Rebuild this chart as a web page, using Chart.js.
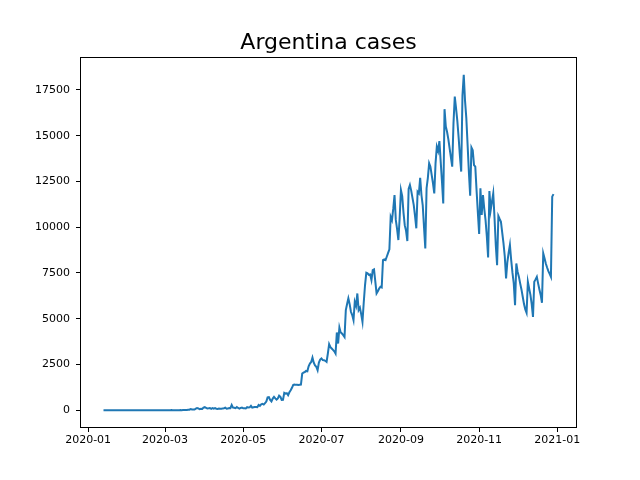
<!DOCTYPE html>
<html>
<head>
<meta charset="utf-8">
<script src="https://cdn.jsdelivr.net/npm/chart.js@4.4.1/dist/chart.umd.min.js"></script>
<style>
html,body{margin:0;padding:0;background:#fff;}
#wrap{width:640px;height:480px;}
</style>
</head>
<body>
<div id="wrap"><canvas id="c" width="640" height="480"></canvas></div>
<script>
// Daily new cases, one value per day starting at startDate
const startDate = '2020-01-13';
const cases = [
  0,0,0,0,0,0,0,0,0,0,
  0,0,0,0,0,0,0,0,0,0,
  0,0,0,0,0,0,0,0,0,0,
  0,0,0,0,0,0,0,0,0,0,
  0,0,0,0,0,0,0,0,0,0,
  1,0,1,6,1,3,5,2,4,3,
  7,3,11,11,14,18,31,30,67,41,
  36,35,86,115,101,55,75,70,146,167,
  132,98,103,120,74,114,87,115,83,69,
  95,77,77,100,110,144,81,88,119,112,
  291,145,135,111,172,122,86,124,143,103,
  111,101,165,145,158,240,139,163,178,181,
  165,285,240,316,345,308,390,470,704,718,
  560,480,638,735,648,581,643,795,736,560,
  566,950,904,929,820,983,1094,1226,1390,1400,
  1386,1393,1374,1393,1400,2000,2060,2086,2146,2130,
  2400,2550,2635,2880,2600,2450,2370,2190,2600,2770,
  2830,2744,2735,2700,2640,3100,3610,3450,3375,3300,
  3223,3099,4250,3645,4518,4250,4190,4100,4000,5470,
  5800,6110,5800,5380,5200,4920,5925,5700,6380,5470,
  5600,5250,4830,5900,6840,7510,7480,7400,7420,7110,
  7660,7700,7040,6380,6500,6650,6745,6710,8200,8240,
  8200,8400,8600,8790,10570,10390,11000,11760,10400,9900,
  9300,10500,12030,11700,10800,10100,9800,9245,12090,12310,
  12000,11600,11210,10600,9940,11940,11850,12700,11760,11200,
  10000,8845,12130,12700,13490,13300,12850,12400,11850,13500,
  14400,14170,14710,13600,12500,11300,16450,15500,15200,14800,
  14300,13800,13310,15700,17140,16500,15800,14900,13900,13040,
  17200,18330,16900,15960,14500,13000,11720,14350,14200,13400,
  13310,12000,10800,9630,12130,10670,11760,11000,10390,9500,
  8350,11980,10940,11400,11850,10500,9000,7930,10610,10450,
  10300,9700,9120,8400,7200,8100,8600,9030,8200,7500,
  6930,5740,8020,7570,7300,6930,6600,6200,5800,5500,
  5320,7020,6660,6300,5800,5100,7020,7150,7290,6930,
  6600,6300,5870,8570,8300,8020,7800,7600,7450,7290,
  11670,11810
];
const titleText = 'Argentina cases';
const xTickDates = ['2020-01-01','2020-03-01','2020-05-01','2020-07-01','2020-09-01','2020-11-01','2021-01-01'];
const xTickLabels = ['2020-01','2020-03','2020-05','2020-07','2020-09','2020-11','2021-01'];
const yTicks = [0,2500,5000,7500,10000,12500,15000,17500];

const DAY = 86400000;
const origin = Date.UTC(2020,0,1);
function dayOf(s){ const p=s.split('-').map(Number); return (Date.UTC(p[0],p[1]-1,p[2])-origin)/DAY; }
const d0 = dayOf(startDate);
const points = cases.map((v,i)=>({x:d0+i, y:v}));
const xTickVals = xTickDates.map(dayOf);

const xs = points.map(p=>p.x), ys = points.map(p=>p.y);
const xMin = Math.min(...xs), xMax = Math.max(...xs);
const yMin = Math.min(...ys), yMax = Math.max(...ys);
const xPad = 0.05*(xMax-xMin), yPad = 0.05*(yMax-yMin);

const FONT = "'DejaVu Sans', sans-serif";

const frame = {
  id:'frame',
  afterDatasetsDraw(chart){
    const {ctx, chartArea:a} = chart;
    ctx.save();
    ctx.strokeStyle='#000';
    ctx.lineWidth=1;
    ctx.strokeRect(Math.round(a.left)-0.5, Math.round(a.top)-0.5, Math.round(a.right-a.left)+1, Math.round(a.bottom-a.top)+1);
    // axes title centred over the plot area
    ctx.fillStyle='#000';
    ctx.font = "22px " + FONT;
    ctx.textAlign='center';
    ctx.textBaseline='alphabetic';
    ctx.fillText(titleText, (a.left+a.right)/2, a.top-9);
    ctx.restore();
  }
};

new Chart(document.getElementById('c'), {
  type:'line',
  data:{ datasets:[{
    data:points,
    borderColor:'#1f77b4',
    borderWidth:2,
    pointRadius:0,
    tension:0,
    fill:false
  }]},
  options:{
    responsive:false,
    animation:false,
    devicePixelRatio:1,
    layout:{padding:{left:0,right:64,top:58,bottom:0}},
    plugins:{
      legend:{display:false},
      tooltip:{enabled:false},
      title:{display:false}
    },
    scales:{
      x:{
        type:'linear',
        min:xMin-xPad, max:xMax+xPad,
        afterBuildTicks(s){ s.ticks = xTickVals.map(v=>({value:v})); },
        afterFit(s){ s.height = 53; },
        grid:{display:true, drawOnChartArea:false, drawTicks:true, tickLength:5, color:'#000', lineWidth:1},
        border:{display:false},
        ticks:{color:'#000', font:{family:FONT, size:11}, padding:2, maxRotation:0, autoSkip:false,
          callback(v){ const i = xTickVals.indexOf(v); return i>=0 ? xTickLabels[i] : ''; }}
      },
      y:{
        type:'linear',
        min:yMin-yPad, max:yMax+yPad,
        afterBuildTicks(s){ s.ticks = yTicks.map(v=>({value:v})); },
        afterFit(s){ s.width = 81; },
        grid:{display:true, drawOnChartArea:false, drawTicks:true, tickLength:5, color:'#000', lineWidth:1},
        border:{display:false},
        ticks:{color:'#000', font:{family:FONT, size:11}, padding:6,
          callback(v){ return String(v); }}
      }
    }
  },
  plugins:[frame]
});
</script>
</body>
</html>
